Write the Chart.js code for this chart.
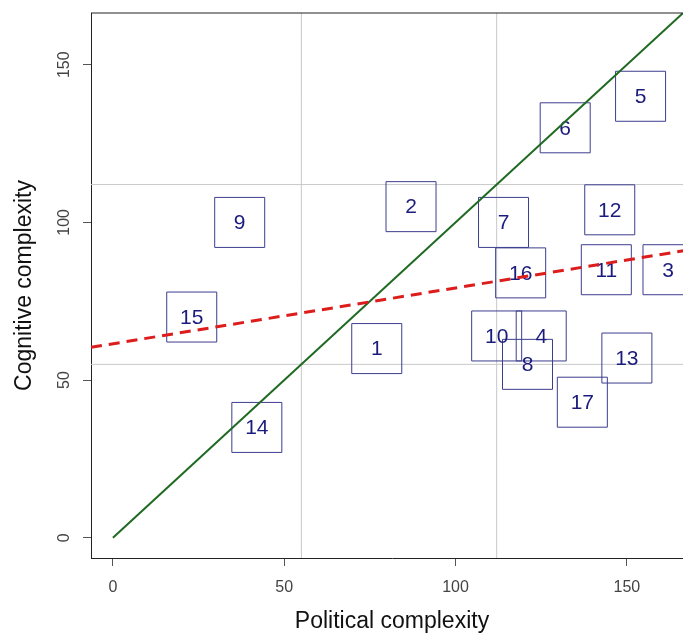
<!DOCTYPE html>
<html>
<head>
<meta charset="utf-8">
<script src="https://cdn.jsdelivr.net/npm/chart.js@4"></script>
<style>
  html, body { margin: 0; padding: 0; background: #fff; overflow: hidden; }
  #wrap { width: 693px; height: 635px; }
</style>
</head>
<body>
<div id="wrap"><canvas id="cChart" width="693" height="635"></canvas></div>
<script>
// country labels and their positions (political, cognitive)
const labels = ['1','2','3','4','5','6','7','8','9','10','11','12','13','14','15','16','17'];
const political = [77, 87, 162, 125, 154, 132, 114, 121, 37, 112, 144, 145, 150, 42, 23, 119, 137];
const cognitive = [60, 105, 85, 64, 140, 130, 100, 55, 100, 64, 85, 104, 57, 35, 70, 84, 43];

// reference lines
const vLines = [55, 112];
const hLines = [55, 112];
// y = x line
const diagX = [0, 175];
const diagY = [0, 175];
// fitted (red dashed) line, read at the plot edges
const fitX = [-6.4, 169.3];
const fitY = [60.4, 91.5];

const xTicks = [0, 50, 100, 150];
const yTicks = [0, 50, 100, 150];

const font = 'Liberation Sans, Arial, sans-serif';

let datasets = [];
vLines.forEach(v => {
    datasets.push({
        type: 'line', data: [{x: v, y: -50}, {x: v, y: 250}],
        borderColor: '#c8c8c8', borderWidth: 1, pointRadius: 0, clip: 0, order: 4
    });
});
hLines.forEach(v => {
    datasets.push({
        type: 'line', data: [{x: -50, y: v}, {x: 250, y: v}],
        borderColor: '#c8c8c8', borderWidth: 1, pointRadius: 0, clip: 0, order: 4
    });
});
const boxIndex = datasets.length;
datasets.push({
    type: 'scatter',
    data: political.map((p, i) => ({x: p, y: cognitive[i]})),
    pointStyle: 'rect',
    pointRadius: 35.36,
    pointHoverRadius: 35.36,
    pointBorderWidth: 1,
    pointBackgroundColor: 'rgba(0,0,0,0)',
    pointBorderColor: '#3d3d8f',
    order: 3
});
datasets.push({
    type: 'line', data: diagX.map((v, i) => ({x: v, y: diagY[i]})),
    borderColor: '#1f6a22', borderWidth: 2, pointRadius: 0, clip: 0, order: 1
});
datasets.push({
    type: 'line', data: fitX.map((v, i) => ({x: v, y: fitY[i]})),
    borderColor: '#dd1c1c', borderWidth: 3, borderDash: [11, 7], pointRadius: 0, clip: 0, order: 0
});

const boxText = {
    id: 'boxText',
    afterDatasetDraw(chart, args) {
        if (args.index !== boxIndex) return;
        const ctx = chart.ctx;
        const meta = chart.getDatasetMeta(boxIndex);
        ctx.save();
        ctx.font = '21px ' + font;
        ctx.fillStyle = '#1b1b7d';
        ctx.textAlign = 'center';
        ctx.textBaseline = 'middle';
        meta.data.forEach((pt, i) => {
            ctx.fillText(labels[i], pt.x, pt.y + 1);
        });
        ctx.restore();
    }
};

const topBorder = {
    id: 'topBorder',
    afterDraw(chart) {
        const a = chart.chartArea;
        const ctx = chart.ctx;
        ctx.save();
        ctx.strokeStyle = '#222';
        ctx.lineWidth = 1;
        ctx.beginPath();
        ctx.moveTo(a.left, a.top);
        ctx.lineTo(a.right, a.top);
        ctx.stroke();
        ctx.restore();
    }
};

function noPad(s) {
    s.paddingTop = 0;
    s.paddingBottom = 0;
    s.paddingLeft = 0;
    s.paddingRight = 0;
}

new Chart(document.getElementById('cChart'), {
    type: 'scatter',
    data: { datasets: datasets },
    plugins: [boxText, topBorder],
    options: {
        responsive: false,
        animation: false,
        devicePixelRatio: 1,
        events: [],
        layout: { autoPadding: false, padding: { top: 13, right: 0, left: 0, bottom: 0 } },
        plugins: { legend: { display: false }, tooltip: { enabled: false } },
        scales: {
            x: {
                type: 'linear', min: -6.4, max: 169.3,
                afterBuildTicks: s => { s.ticks = xTicks.map(v => ({value: v})); },
                afterFit: s => { s.height = 77; noPad(s); },
                grid: { drawOnChartArea: false, tickLength: 8, tickColor: '#555' },
                border: { color: '#222', width: 1 },
                ticks: { font: { family: font, size: 16 }, color: '#444', padding: 12, maxRotation: 0 },
                title: { display: true, text: 'Political complexity', color: '#111',
                    font: { family: font, size: 23 }, padding: { top: 0, bottom: 0 } }
            },
            y: {
                type: 'linear', min: -6.4, max: 166.4,
                afterBuildTicks: s => { s.ticks = yTicks.map(v => ({value: v})); },
                afterFit: s => { s.width = 91; noPad(s); },
                grid: { drawOnChartArea: false, tickLength: 8, tickColor: '#555' },
                border: { color: '#222', width: 1 },
                ticks: { font: { family: font, size: 16 }, color: '#444', padding: 5,
                    minRotation: 90, maxRotation: 90, crossAlign: 'center' },
                title: { display: true, text: 'Cognitive complexity', color: '#111',
                    font: { family: font, size: 23 }, padding: { top: 11, bottom: 0 } }
            }
        }
    }
});
</script>
</body>
</html>
